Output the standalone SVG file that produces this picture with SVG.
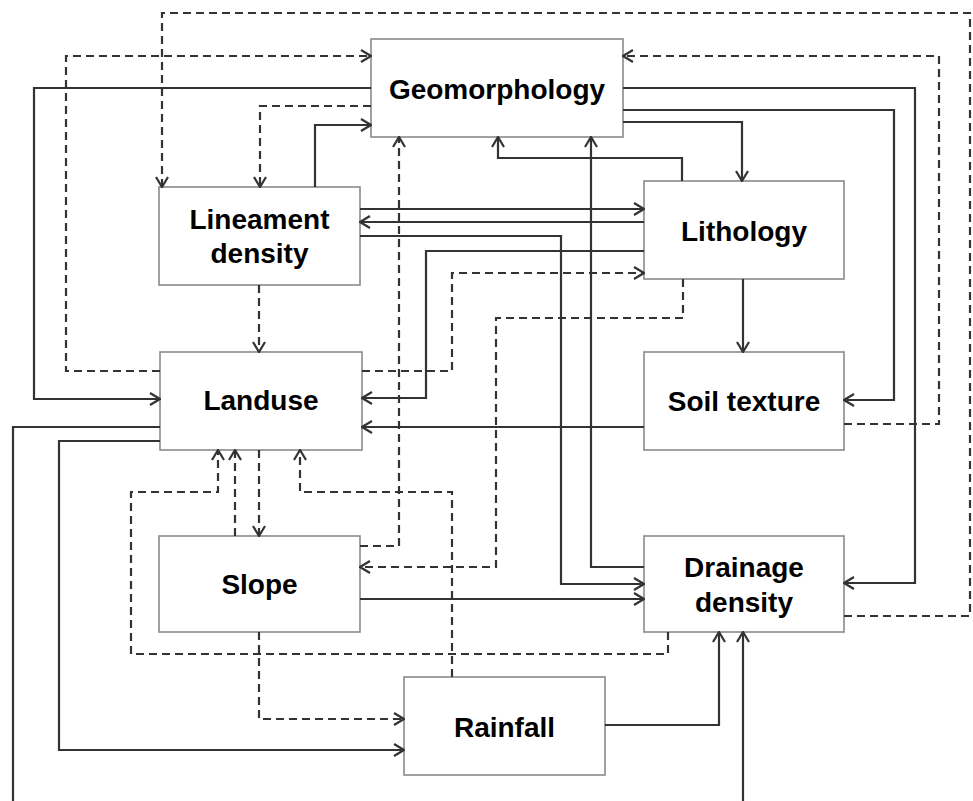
<svg xmlns="http://www.w3.org/2000/svg" width="973" height="801" viewBox="0 0 973 801">
<style>
.box{fill:#fff;stroke:#8a8a8a;stroke-width:1.6}
.t{font-family:"Liberation Sans",Arial,sans-serif;font-weight:bold;font-size:28px;fill:#000;text-anchor:middle}
.c{fill:none;stroke:#333;stroke-width:2.2}
.d{stroke-dasharray:8,5}
.a{marker-end:url(#arr)}
</style>
<defs>
<marker id="arr" viewBox="-1 -1 12 16" refX="10" refY="7" markerWidth="12" markerHeight="16" markerUnits="userSpaceOnUse" orient="auto">
<path d="M0,1 L10,7 L0,13" fill="none" stroke="#333" stroke-width="2.2"/>
</marker>
</defs>
<rect width="973" height="801" fill="#fff"/>
<g id="geomorphology"><rect class="box" x="371" y="39" width="252" height="98"/><text class="t" x="497" y="99">Geomorphology</text></g>
<g id="lineament"><rect class="box" x="159" y="187" width="201" height="98"/><text class="t" x="259.5" y="229">Lineament</text><text class="t" x="259.5" y="263">density</text></g>
<g id="lithology"><rect class="box" x="644" y="181" width="200" height="98"/><text class="t" x="744" y="241">Lithology</text></g>
<g id="landuse"><rect class="box" x="160" y="352" width="202" height="98"/><text class="t" x="261" y="410">Landuse</text></g>
<g id="soil"><rect class="box" x="644" y="352" width="200" height="98"/><text class="t" x="744" y="411">Soil texture</text></g>
<g id="slope"><rect class="box" x="159" y="536" width="201" height="96"/><text class="t" x="259.5" y="594">Slope</text></g>
<g id="drainage"><rect class="box" x="644" y="536" width="200" height="96"/><text class="t" x="744" y="577">Drainage</text><text class="t" x="744" y="612">density</text></g>
<g id="rainfall"><rect class="box" x="404" y="677" width="201" height="98"/><text class="t" x="504.5" y="737">Rainfall</text></g>
<g id="connectors">
<path class="c d a" d="M844,616 H970 V13 H162 V187"/>
<path class="c d a" d="M160,371 H66 V56 H371"/>
<path class="c a" d="M371,88 H34 V399 H160"/>
<path class="c d a" d="M371,106 H260 V187"/>
<path class="c a" d="M315,187 V125 H371"/>
<path class="c d a" d="M360,546 H399 V137"/>
<path class="c d a" d="M844,424 H939 V56 H623"/>
<path class="c a" d="M623,88 H915 V583 H844"/>
<path class="c a" d="M623,110 H894 V400 H844"/>
<path class="c a" d="M623,122 H742 V181"/>
<path class="c a" d="M682,181 V158 H498 V137"/>
<path class="c a" d="M644,567 H591 V137"/>
<path class="c a" d="M360,209 H644"/>
<path class="c a" d="M644,222 H360"/>
<path class="c a" d="M360,236 H561 V584 H644"/>
<path class="c a" d="M644,251 H426 V398 H362"/>
<path class="c d a" d="M362,371 H452 V273 H644"/>
<path class="c d a" d="M683,279 V318 H496 V567 H360"/>
<path class="c a" d="M743,279 V352"/>
<path class="c a" d="M644,427 H362"/>
<path class="c d a" d="M259,285 V352"/>
<path class="c" d="M160,427 H13 V801"/>
<path class="c a" d="M160,441 H59 V750 H404"/>
<path class="c d a" d="M259,450 V536"/>
<path class="c d a" d="M235,536 V450"/>
<path class="c d a" d="M668,632 V654 H131 V492 H218 V450"/>
<path class="c d a" d="M452,677 V492 H300 V450"/>
<path class="c d a" d="M259,632 V719 H404"/>
<path class="c a" d="M360,599 H644"/>
<path class="c a" d="M605,725 H719 V632"/>
<path class="c a" d="M743,801 V632"/>
</g>
</svg>
